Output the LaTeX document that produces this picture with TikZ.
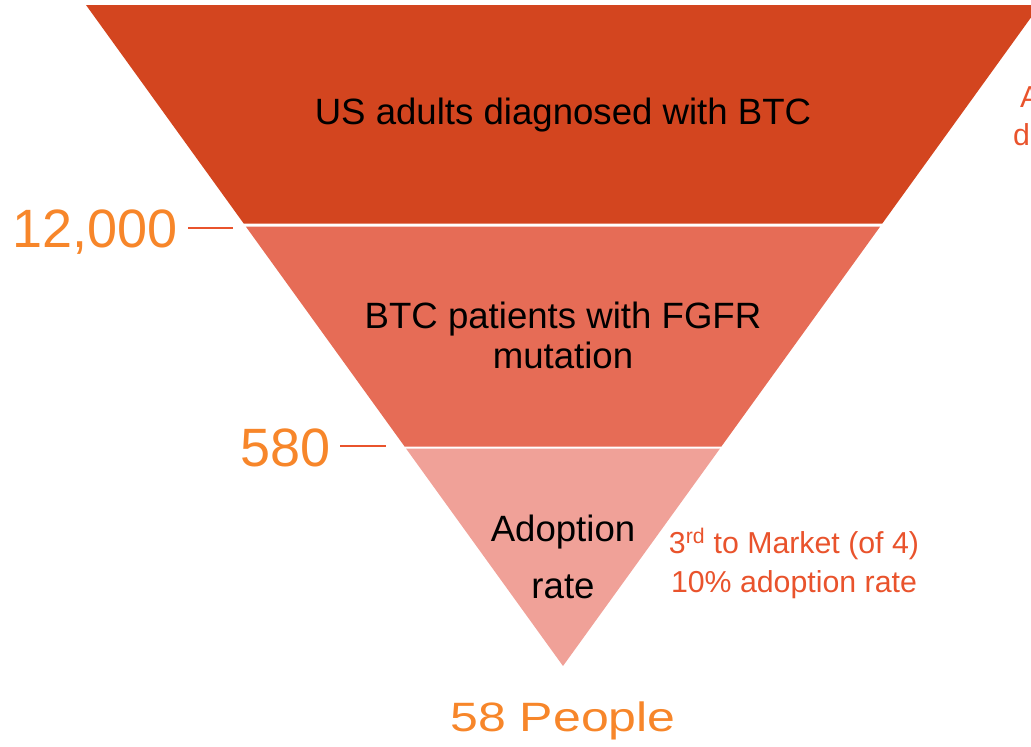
\documentclass[tikz,border=0pt]{standalone}
\usepackage{fontspec}
\setmainfont{Liberation Sans}
\usepackage{xcolor}

\definecolor{bandtop}{RGB}{211,69,31}
\definecolor{bandmid}{RGB}{230,108,86}
\definecolor{bandlow}{RGB}{240,161,152}
\definecolor{numorange}{RGB}{247,134,42}
\definecolor{noteorange}{RGB}{233,83,44}

\begin{document}
\begin{tikzpicture}[x=1pt,y=-1pt,
  bandtext/.style={font=\fontsize{36.6}{40}\selectfont,text=black,inner sep=0pt},
  count/.style={font=\fontsize{54}{60}\selectfont,text=numorange,inner sep=0pt},
  tick/.style={draw=noteorange,line width=2.6pt},
  note/.style={font=\fontsize{30.3}{36}\selectfont,text=noteorange,inner sep=0pt}]
\useasboundingbox (0,0) rectangle (1031,747);
\clip (0,0) rectangle (1031,747);

% the three funnel bands
\fill[bandtop] (86,5) -- (1040,5) -- (882.3,223.5) -- (243.7,223.5) -- cycle;
\fill[bandmid] (245.8,226.5) -- (880.2,226.5) -- (721.4,446.5) -- (404.6,446.5) -- cycle;
\fill[bandlow] (406,448.5) -- (720,448.5) -- (563,666) -- cycle;

% band texts
\node[bandtext,anchor=base] (adults) at (563,124) {US adults diagnosed with BTC};
\node[bandtext,anchor=base] (fgfr) at (563,328) {BTC patients with FGFR};
\node[bandtext,anchor=base] (fgfrb) at (563,368) {mutation};
\node[bandtext,anchor=base] (adopt) at (563,541) {Adoption};
\node[bandtext,anchor=base] (adoptb) at (563,598) {rate};

% counts on the left
\node[count,anchor=base east] (twelve) at (178,247) {12,000};
\draw[tick] (188,228) -- (233,228);
\node[count,anchor=base east] (five) at (331,466) {580};
\draw[tick] (340,446) -- (386,446);

\node[font=\fontsize{41}{44}\selectfont,text=numorange,inner sep=0pt,anchor=base]
  (people) at (563,731) {\scalebox{1.22}[1]{58 People}};

% notes on the right
\node[note,anchor=base] (third) at (794,553) {3\textsuperscript{rd} to Market (of 4)};
\node[note,anchor=base] (rate) at (794,592) {10\% adoption rate};
\node[note,anchor=base west] (cuta) at (1020,107) {A};
\node[note,anchor=base west] (cutd) at (1013,145) {d};
\end{tikzpicture}
\end{document}
